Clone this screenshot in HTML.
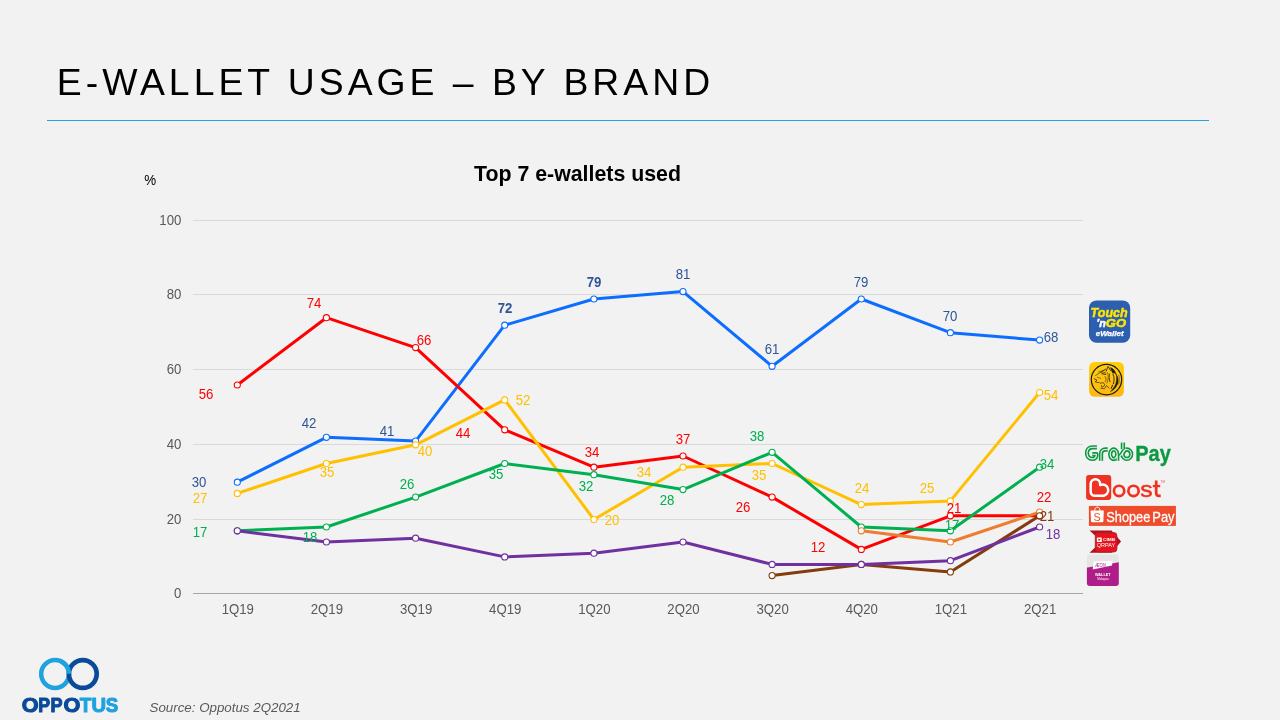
<!DOCTYPE html>
<html><head><meta charset="utf-8"><title>E-Wallet Usage</title>
<style>
html,body{margin:0;padding:0;}
body{width:1280px;height:720px;background:#F2F2F2;overflow:hidden;position:relative;font-family:"Liberation Sans",sans-serif;}
#title{position:absolute;left:57px;top:59px;font-size:40px;letter-spacing:3.6px;color:#0D0D0D;white-space:nowrap;line-height:46px;}
#rule{position:absolute;left:47px;top:120px;width:1162px;height:1px;background:#22A5DF;}
#ctitle{position:absolute;left:377px;width:400px;top:162px;text-align:center;font-size:20px;font-weight:bold;color:#000;line-height:24px;}
#pct{position:absolute;left:144px;top:173px;font-size:12px;color:#000;line-height:14px;}
#src{position:absolute;left:150px;top:699px;font-size:14px;font-style:italic;color:#595959;line-height:16px;}
svg{position:absolute;left:0;top:0;will-change:transform;}
svg text{font-family:"Liberation Sans",sans-serif;}
.ax{font-size:14.2px;fill:#595959;}
.dl{font-size:14.2px;}
</style></head><body>
<div id="rule"></div>
<svg width="1280" height="720" viewBox="0 0 1280 720">
<rect x="193" y="220" width="890" height="1" fill="#D9D9D9"/>
<rect x="193" y="294" width="890" height="1" fill="#D9D9D9"/>
<rect x="193" y="369" width="890" height="1" fill="#D9D9D9"/>
<rect x="193" y="444" width="890" height="1" fill="#D9D9D9"/>
<rect x="193" y="519" width="890" height="1" fill="#D9D9D9"/>
<rect x="193" y="593" width="890" height="1" fill="#A6A6A6"/>
<polyline points="237.3,482.2 326.4,437.3 415.6,441.1 504.7,325.2 593.9,299.0 683.0,291.6 772.1,366.3 861.3,299.0 950.4,332.7 1039.6,340.1" fill="none" stroke="#0D6EFD" stroke-width="3" stroke-linejoin="round" stroke-linecap="round"/>
<circle cx="237.3" cy="482.2" r="3.05" fill="#fff" stroke="#0D6EFD" stroke-width="1.1"/>
<circle cx="326.4" cy="437.3" r="3.05" fill="#fff" stroke="#0D6EFD" stroke-width="1.1"/>
<circle cx="415.6" cy="441.1" r="3.05" fill="#fff" stroke="#0D6EFD" stroke-width="1.1"/>
<circle cx="504.7" cy="325.2" r="3.05" fill="#fff" stroke="#0D6EFD" stroke-width="1.1"/>
<circle cx="593.9" cy="299.0" r="3.05" fill="#fff" stroke="#0D6EFD" stroke-width="1.1"/>
<circle cx="683.0" cy="291.6" r="3.05" fill="#fff" stroke="#0D6EFD" stroke-width="1.1"/>
<circle cx="772.1" cy="366.3" r="3.05" fill="#fff" stroke="#0D6EFD" stroke-width="1.1"/>
<circle cx="861.3" cy="299.0" r="3.05" fill="#fff" stroke="#0D6EFD" stroke-width="1.1"/>
<circle cx="950.4" cy="332.7" r="3.05" fill="#fff" stroke="#0D6EFD" stroke-width="1.1"/>
<circle cx="1039.6" cy="340.1" r="3.05" fill="#fff" stroke="#0D6EFD" stroke-width="1.1"/>
<polyline points="237.3,385.0 326.4,317.7 415.6,347.6 504.7,429.8 593.9,467.2 683.0,456.0 772.1,497.1 861.3,549.4 950.4,515.8 1039.6,515.8" fill="none" stroke="#FF0000" stroke-width="3" stroke-linejoin="round" stroke-linecap="round"/>
<circle cx="237.3" cy="385.0" r="3.05" fill="#fff" stroke="#FF0000" stroke-width="1.1"/>
<circle cx="326.4" cy="317.7" r="3.05" fill="#fff" stroke="#FF0000" stroke-width="1.1"/>
<circle cx="415.6" cy="347.6" r="3.05" fill="#fff" stroke="#FF0000" stroke-width="1.1"/>
<circle cx="504.7" cy="429.8" r="3.05" fill="#fff" stroke="#FF0000" stroke-width="1.1"/>
<circle cx="593.9" cy="467.2" r="3.05" fill="#fff" stroke="#FF0000" stroke-width="1.1"/>
<circle cx="683.0" cy="456.0" r="3.05" fill="#fff" stroke="#FF0000" stroke-width="1.1"/>
<circle cx="772.1" cy="497.1" r="3.05" fill="#fff" stroke="#FF0000" stroke-width="1.1"/>
<circle cx="861.3" cy="549.4" r="3.05" fill="#fff" stroke="#FF0000" stroke-width="1.1"/>
<circle cx="950.4" cy="515.8" r="3.05" fill="#fff" stroke="#FF0000" stroke-width="1.1"/>
<circle cx="1039.6" cy="515.8" r="3.05" fill="#fff" stroke="#FF0000" stroke-width="1.1"/>
<polyline points="237.3,493.4 326.4,463.5 415.6,444.8 504.7,399.9 593.9,519.5 683.0,467.2 772.1,463.5 861.3,504.6 950.4,500.9 1039.6,392.5" fill="none" stroke="#FFC000" stroke-width="3" stroke-linejoin="round" stroke-linecap="round"/>
<circle cx="237.3" cy="493.4" r="3.05" fill="#fff" stroke="#FFC000" stroke-width="1.1"/>
<circle cx="326.4" cy="463.5" r="3.05" fill="#fff" stroke="#FFC000" stroke-width="1.1"/>
<circle cx="415.6" cy="444.8" r="3.05" fill="#fff" stroke="#FFC000" stroke-width="1.1"/>
<circle cx="504.7" cy="399.9" r="3.05" fill="#fff" stroke="#FFC000" stroke-width="1.1"/>
<circle cx="593.9" cy="519.5" r="3.05" fill="#fff" stroke="#FFC000" stroke-width="1.1"/>
<circle cx="683.0" cy="467.2" r="3.05" fill="#fff" stroke="#FFC000" stroke-width="1.1"/>
<circle cx="772.1" cy="463.5" r="3.05" fill="#fff" stroke="#FFC000" stroke-width="1.1"/>
<circle cx="861.3" cy="504.6" r="3.05" fill="#fff" stroke="#FFC000" stroke-width="1.1"/>
<circle cx="950.4" cy="500.9" r="3.05" fill="#fff" stroke="#FFC000" stroke-width="1.1"/>
<circle cx="1039.6" cy="392.5" r="3.05" fill="#fff" stroke="#FFC000" stroke-width="1.1"/>
<polyline points="237.3,530.8 326.4,527.0 415.6,497.1 504.7,463.5 593.9,474.7 683.0,489.6 772.1,452.3 861.3,527.0 950.4,530.8 1039.6,467.2" fill="none" stroke="#00B050" stroke-width="3" stroke-linejoin="round" stroke-linecap="round"/>
<circle cx="237.3" cy="530.8" r="3.05" fill="#fff" stroke="#00B050" stroke-width="1.1"/>
<circle cx="326.4" cy="527.0" r="3.05" fill="#fff" stroke="#00B050" stroke-width="1.1"/>
<circle cx="415.6" cy="497.1" r="3.05" fill="#fff" stroke="#00B050" stroke-width="1.1"/>
<circle cx="504.7" cy="463.5" r="3.05" fill="#fff" stroke="#00B050" stroke-width="1.1"/>
<circle cx="593.9" cy="474.7" r="3.05" fill="#fff" stroke="#00B050" stroke-width="1.1"/>
<circle cx="683.0" cy="489.6" r="3.05" fill="#fff" stroke="#00B050" stroke-width="1.1"/>
<circle cx="772.1" cy="452.3" r="3.05" fill="#fff" stroke="#00B050" stroke-width="1.1"/>
<circle cx="861.3" cy="527.0" r="3.05" fill="#fff" stroke="#00B050" stroke-width="1.1"/>
<circle cx="950.4" cy="530.8" r="3.05" fill="#fff" stroke="#00B050" stroke-width="1.1"/>
<circle cx="1039.6" cy="467.2" r="3.05" fill="#fff" stroke="#00B050" stroke-width="1.1"/>
<polyline points="861.3,530.8 950.4,542.0 1039.6,512.1" fill="none" stroke="#ED7D31" stroke-width="3" stroke-linejoin="round" stroke-linecap="round"/>
<circle cx="861.3" cy="530.8" r="3.05" fill="#fff" stroke="#ED7D31" stroke-width="1.1"/>
<circle cx="950.4" cy="542.0" r="3.05" fill="#fff" stroke="#ED7D31" stroke-width="1.1"/>
<circle cx="1039.6" cy="512.1" r="3.05" fill="#fff" stroke="#ED7D31" stroke-width="1.1"/>
<polyline points="772.1,575.6 861.3,564.4 950.4,571.9 1039.6,515.8" fill="none" stroke="#843C0C" stroke-width="3" stroke-linejoin="round" stroke-linecap="round"/>
<circle cx="772.1" cy="575.6" r="3.05" fill="#fff" stroke="#843C0C" stroke-width="1.1"/>
<circle cx="861.3" cy="564.4" r="3.05" fill="#fff" stroke="#843C0C" stroke-width="1.1"/>
<circle cx="950.4" cy="571.9" r="3.05" fill="#fff" stroke="#843C0C" stroke-width="1.1"/>
<circle cx="1039.6" cy="515.8" r="3.05" fill="#fff" stroke="#843C0C" stroke-width="1.1"/>
<polyline points="237.3,530.8 326.4,542.0 415.6,538.2 504.7,556.9 593.9,553.2 683.0,542.0 772.1,564.4 861.3,564.4 950.4,560.7 1039.6,527.0" fill="none" stroke="#7030A0" stroke-width="3" stroke-linejoin="round" stroke-linecap="round"/>
<circle cx="237.3" cy="530.8" r="3.05" fill="#fff" stroke="#7030A0" stroke-width="1.1"/>
<circle cx="326.4" cy="542.0" r="3.05" fill="#fff" stroke="#7030A0" stroke-width="1.1"/>
<circle cx="415.6" cy="538.2" r="3.05" fill="#fff" stroke="#7030A0" stroke-width="1.1"/>
<circle cx="504.7" cy="556.9" r="3.05" fill="#fff" stroke="#7030A0" stroke-width="1.1"/>
<circle cx="593.9" cy="553.2" r="3.05" fill="#fff" stroke="#7030A0" stroke-width="1.1"/>
<circle cx="683.0" cy="542.0" r="3.05" fill="#fff" stroke="#7030A0" stroke-width="1.1"/>
<circle cx="772.1" cy="564.4" r="3.05" fill="#fff" stroke="#7030A0" stroke-width="1.1"/>
<circle cx="861.3" cy="564.4" r="3.05" fill="#fff" stroke="#7030A0" stroke-width="1.1"/>
<circle cx="950.4" cy="560.7" r="3.05" fill="#fff" stroke="#7030A0" stroke-width="1.1"/>
<circle cx="1039.6" cy="527.0" r="3.05" fill="#fff" stroke="#7030A0" stroke-width="1.1"/>
<text transform="translate(181.4,224.6) scale(0.93,1)" text-anchor="end" class="ax">100</text>
<text transform="translate(181.4,298.6) scale(0.93,1)" text-anchor="end" class="ax">80</text>
<text transform="translate(181.4,373.6) scale(0.93,1)" text-anchor="end" class="ax">60</text>
<text transform="translate(181.4,448.6) scale(0.93,1)" text-anchor="end" class="ax">40</text>
<text transform="translate(181.4,523.6) scale(0.93,1)" text-anchor="end" class="ax">20</text>
<text transform="translate(181.4,597.6) scale(0.93,1)" text-anchor="end" class="ax">0</text>
<text transform="translate(237.8,614) scale(0.93,1)" text-anchor="middle" class="ax">1Q19</text>
<text transform="translate(326.9,614) scale(0.93,1)" text-anchor="middle" class="ax">2Q19</text>
<text transform="translate(416.1,614) scale(0.93,1)" text-anchor="middle" class="ax">3Q19</text>
<text transform="translate(505.2,614) scale(0.93,1)" text-anchor="middle" class="ax">4Q19</text>
<text transform="translate(594.4,614) scale(0.93,1)" text-anchor="middle" class="ax">1Q20</text>
<text transform="translate(683.5,614) scale(0.93,1)" text-anchor="middle" class="ax">2Q20</text>
<text transform="translate(772.6,614) scale(0.93,1)" text-anchor="middle" class="ax">3Q20</text>
<text transform="translate(861.8,614) scale(0.93,1)" text-anchor="middle" class="ax">4Q20</text>
<text transform="translate(950.9,614) scale(0.93,1)" text-anchor="middle" class="ax">1Q21</text>
<text transform="translate(1040.1,614) scale(0.93,1)" text-anchor="middle" class="ax">2Q21</text>
<text transform="translate(199,487) scale(0.93,1)" text-anchor="middle" class="dl" fill="#2F5597">30</text>
<text transform="translate(309,428) scale(0.93,1)" text-anchor="middle" class="dl" fill="#2F5597">42</text>
<text transform="translate(387,436) scale(0.93,1)" text-anchor="middle" class="dl" fill="#2F5597">41</text>
<text transform="translate(505,313) scale(0.93,1)" text-anchor="middle" class="dl" fill="#2F5597" font-weight="bold">72</text>
<text transform="translate(594,287) scale(0.93,1)" text-anchor="middle" class="dl" fill="#2F5597" font-weight="bold">79</text>
<text transform="translate(683,279) scale(0.93,1)" text-anchor="middle" class="dl" fill="#2F5597">81</text>
<text transform="translate(772,354) scale(0.93,1)" text-anchor="middle" class="dl" fill="#2F5597">61</text>
<text transform="translate(861,287) scale(0.93,1)" text-anchor="middle" class="dl" fill="#2F5597">79</text>
<text transform="translate(950,321) scale(0.93,1)" text-anchor="middle" class="dl" fill="#2F5597">70</text>
<text transform="translate(1051,342) scale(0.93,1)" text-anchor="middle" class="dl" fill="#2F5597">68</text>
<text transform="translate(206,399) scale(0.93,1)" text-anchor="middle" class="dl" fill="#FF0000">56</text>
<text transform="translate(314,308) scale(0.93,1)" text-anchor="middle" class="dl" fill="#FF0000">74</text>
<text transform="translate(424,345) scale(0.93,1)" text-anchor="middle" class="dl" fill="#FF0000">66</text>
<text transform="translate(463,438) scale(0.93,1)" text-anchor="middle" class="dl" fill="#FF0000">44</text>
<text transform="translate(592,457) scale(0.93,1)" text-anchor="middle" class="dl" fill="#FF0000">34</text>
<text transform="translate(683,444) scale(0.93,1)" text-anchor="middle" class="dl" fill="#FF0000">37</text>
<text transform="translate(743,512) scale(0.93,1)" text-anchor="middle" class="dl" fill="#FF0000">26</text>
<text transform="translate(818,552) scale(0.93,1)" text-anchor="middle" class="dl" fill="#FF0000">12</text>
<text transform="translate(954,513) scale(0.93,1)" text-anchor="middle" class="dl" fill="#FF0000">21</text>
<text transform="translate(1044,502) scale(0.93,1)" text-anchor="middle" class="dl" fill="#FF0000">22</text>
<text transform="translate(200,503) scale(0.93,1)" text-anchor="middle" class="dl" fill="#FFC000">27</text>
<text transform="translate(327,477) scale(0.93,1)" text-anchor="middle" class="dl" fill="#FFC000">35</text>
<text transform="translate(425,456) scale(0.93,1)" text-anchor="middle" class="dl" fill="#FFC000">40</text>
<text transform="translate(523,405) scale(0.93,1)" text-anchor="middle" class="dl" fill="#FFC000">52</text>
<text transform="translate(612,525) scale(0.93,1)" text-anchor="middle" class="dl" fill="#FFC000">20</text>
<text transform="translate(644,477) scale(0.93,1)" text-anchor="middle" class="dl" fill="#FFC000">34</text>
<text transform="translate(759,480) scale(0.93,1)" text-anchor="middle" class="dl" fill="#FFC000">35</text>
<text transform="translate(862,493) scale(0.93,1)" text-anchor="middle" class="dl" fill="#FFC000">24</text>
<text transform="translate(927,493) scale(0.93,1)" text-anchor="middle" class="dl" fill="#FFC000">25</text>
<text transform="translate(1051,400) scale(0.93,1)" text-anchor="middle" class="dl" fill="#FFC000">54</text>
<text transform="translate(200,537) scale(0.93,1)" text-anchor="middle" class="dl" fill="#00B050">17</text>
<text transform="translate(310,542) scale(0.93,1)" text-anchor="middle" class="dl" fill="#00B050">18</text>
<text transform="translate(407,489) scale(0.93,1)" text-anchor="middle" class="dl" fill="#00B050">26</text>
<text transform="translate(496,479) scale(0.93,1)" text-anchor="middle" class="dl" fill="#00B050">35</text>
<text transform="translate(586,491) scale(0.93,1)" text-anchor="middle" class="dl" fill="#00B050">32</text>
<text transform="translate(667,505) scale(0.93,1)" text-anchor="middle" class="dl" fill="#00B050">28</text>
<text transform="translate(757,441) scale(0.93,1)" text-anchor="middle" class="dl" fill="#00B050">38</text>
<text transform="translate(952,530) scale(0.93,1)" text-anchor="middle" class="dl" fill="#00B050">17</text>
<text transform="translate(1047,469) scale(0.93,1)" text-anchor="middle" class="dl" fill="#00B050">34</text>
<text transform="translate(1047,521) scale(0.93,1)" text-anchor="middle" class="dl" fill="#843C0C">21</text>
<text transform="translate(1053,539) scale(0.93,1)" text-anchor="middle" class="dl" fill="#7030A0">18</text>
<text x="56.8" y="95.3" font-size="37.33" letter-spacing="4" fill="#000">E-WALLET USAGE – BY BRAND</text>
<text x="577.5" y="180.8" font-size="21.33" font-weight="bold" text-anchor="middle" fill="#000">Top 7 e-wallets used</text>
<text transform="translate(144.2,185.2) scale(0.93,1)" font-size="14.4" fill="#000">%</text>
<text x="149.5" y="712" font-size="13.33" font-style="italic" fill="#595959">Source: Oppotus 2Q2021</text>
<!-- Touch n Go -->
<g id="tng">
<rect x="1089" y="300.4" width="41.2" height="42.3" rx="7.5" fill="#2D5FB0"/>
<text x="1090.6" y="316.9" font-size="13.4" font-weight="bold" font-style="italic" fill="#FFE500" stroke="#FFE500" stroke-width="0.55" textLength="37" lengthAdjust="spacingAndGlyphs">Touch</text>
<text x="1096.6" y="326.6" font-size="10.5" font-weight="bold" font-style="italic" fill="#fff" stroke="#fff" stroke-width="0.45" textLength="9.2" lengthAdjust="spacingAndGlyphs">'n</text>
<text x="1105.8" y="326.7" font-size="11.8" font-weight="bold" font-style="italic" fill="#FFE500" stroke="#FFE500" stroke-width="0.55" textLength="20.2" lengthAdjust="spacingAndGlyphs">GO</text>
<text x="1095.7" y="336.4" font-size="7.4" font-weight="bold" font-style="italic" fill="#fff" stroke="#fff" stroke-width="0.25" textLength="28" lengthAdjust="spacingAndGlyphs">eWallet</text>
</g>
<!-- Maybank -->
<g id="mbb">
<defs><linearGradient id="mbg" x1="0" y1="0" x2="0" y2="1"><stop offset="0" stop-color="#FFCE0A"/><stop offset="1" stop-color="#FDB714"/></linearGradient></defs>
<rect x="1089.1" y="362" width="34.8" height="34.8" rx="5.5" fill="url(#mbg)"/>
<circle cx="1106.5" cy="379.6" r="15.2" fill="none" stroke="#1c1a17" stroke-width="1.2"/>
<g transform="translate(1084,358) scale(0.0639)" fill="none" stroke="#1c1a17" stroke-linecap="round" stroke-linejoin="round">
<path d="M348,205 L376,132 L420,200" stroke-width="13"/>
<path d="M415,150 C450,160 492,200 502,258 L472,232 L452,242 L432,200 Z" fill="#1c1a17" stroke-width="6"/>
<path d="M502,250 C572,340 532,470 412,528 C442,492 476,455 490,420 C514,370 514,300 502,250 Z" fill="#1c1a17" stroke-width="5"/>
<path d="M545,270 C560,320 555,370 540,410" stroke-width="7"/>
<path d="M455,258 C476,300 476,350 460,402" stroke-width="14"/>
<path d="M446,425 L428,475" stroke-width="15"/>
<path d="M400,250 C390,290 394,330 405,372" stroke-width="12"/>
<path d="M180,275 L340,172" stroke-width="9"/>
<path d="M232,218 L332,186" stroke-width="9"/>
<path d="M282,246 L336,256" stroke-width="15"/>
<path d="M270,226 C300,214 330,224 346,242" stroke-width="9"/>
<path d="M160,325 L202,345 L176,375 L238,386" stroke-width="11"/>
<path d="M255,396 C290,374 332,394 320,430 C300,466 264,456 270,430" stroke-width="11"/>
<path d="M264,472 L320,482 L350,432 L392,470" stroke-width="10"/>
<path d="M210,300 L262,320" stroke-width="8"/>
<path d="M330,290 C352,320 352,350 330,372" stroke-width="9"/>
<path d="M370,230 C386,280 380,340 360,392" stroke-width="8"/>
</g>
</g>
<!-- GrabPay -->
<g id="grab">
<g fill="none" stroke="#0B9A40" stroke-width="4.3" stroke-linecap="butt" stroke-linejoin="round">
<path id="gG" d="M1096.9,447.3 H1092.6 C1089,447.3 1087,449.8 1087,453.1 C1087,456.5 1089,458.9 1092.4,458.9 C1095.4,458.9 1096.4,457.3 1096.4,454.2 H1092.3"/>
<path id="gr" d="M1101,460.7 V453.8 C1101,451 1103,449.5 1105.5,449.5 H1107.7"/>
<path id="ga" d="M1117.2,460.7 V454.2 A3.5,4.7 0 1 0 1117.2,454.3"/>
<path id="gb1" d="M1122.9,442.6 V449.2"/>
<path id="gb2" d="M1126,448.7 L1120.2,456.2"/>
<ellipse id="gb3" cx="1126.9" cy="454.2" rx="4.3" ry="4.7"/>
</g>
<g fill="none" stroke="#F2F2F2" stroke-width="1.1" stroke-linecap="butt" stroke-linejoin="round">
<use href="#gG"/><use href="#gr"/><use href="#ga"/><use href="#gb1"/><use href="#gb2"/><use href="#gb3"/>
</g>
<text x="1135.2" y="460.8" font-size="22.6" font-weight="bold" fill="#0B9A40" stroke="#0B9A40" stroke-width="0.35" textLength="35.6" lengthAdjust="spacingAndGlyphs">Pay</text>
</g>
<!-- Boost -->
<g id="boost">
<rect x="1086.1" y="474.9" width="25.1" height="25" rx="2.8" fill="#ED3324"/>
<path d="M1090.65,491.5 V484.1 A4.75,4.75 0 0 1 1100.15,484.1 V485 A5.7,5.7 0 1 1 1101.7,495.8 H1094.9 A4.25,4.25 0 0 1 1090.65,491.5 Z" fill="none" stroke="#fff" stroke-width="2.5" stroke-linejoin="round"/>
<g fill="none" stroke="#F2301F">
<circle cx="1119.1" cy="490.9" r="5.15" stroke-width="2.7"/>
<circle cx="1133.5" cy="490.9" r="5.15" stroke-width="2.7"/>
<path d="M1156.2,480.5 V493 Q1156.2,495.9 1159,495.9 H1160.7" stroke-width="2.7"/>
<path d="M1152.8,486.1 H1160.2" stroke-width="2.3"/>
</g>
<text x="1140.3" y="497.2" font-size="22.8" fill="#F2301F" stroke="#F2301F" stroke-width="0.5" textLength="12.4" lengthAdjust="spacingAndGlyphs">s</text>
<text x="1160.6" y="483.2" font-size="3" fill="#F2301F" opacity="0.85">TM</text>
</g>
<!-- ShopeePay -->
<g id="shopee">
<rect x="1088.9" y="505.9" width="87" height="20" fill="#EE4D2D"/>
<path d="M1094.6,511 C1094.6,505.8 1100,505.8 1100,511" fill="none" stroke="#fff" stroke-width="1"/>
<path d="M1090.6,510.6 H1103.8 L1103.4,521.2 Q1103.3,522.3 1102.2,522.3 H1092.2 Q1091.1,522.3 1091,521.2 Z" fill="#fff"/>
<text x="1097.2" y="520.5" font-size="10.8" text-anchor="middle" fill="#EE4D2D">S</text>
<text x="1106.3" y="522" font-size="15" fill="#fff" stroke="#fff" stroke-width="0.3" textLength="44" lengthAdjust="spacingAndGlyphs">Shopee</text>
<text x="1152.3" y="522" font-size="15" fill="#fff" stroke="#fff" stroke-width="0.3" textLength="22.3" lengthAdjust="spacingAndGlyphs">Pay</text>
</g>
<!-- CIMB -->
<g id="cimb">
<path d="M1089.5,530.4 H1111.5 L1121.1,541.6 L1111.5,552.8 H1089.5 L1101.5,541.6 Z" fill="#B80F1C"/>
<rect x="1095.3" y="532.6" width="21.6" height="19.4" rx="3.2" fill="#E8131D" stroke="#9E262C" stroke-width="0.9"/>
<rect x="1096.9" y="537.6" width="4.9" height="4.4" rx="0.6" fill="#fff"/>
<path d="M1098.4,538.5 L1100.9,539.8 L1098.4,541.1 Z" fill="#E8131D"/>
<text x="1103" y="541.3" font-size="4.4" font-weight="bold" fill="#fff" textLength="12.2" lengthAdjust="spacingAndGlyphs">CIMB</text>
<text x="1096.8" y="546.8" font-size="5.2" fill="#fff" textLength="18.4" lengthAdjust="spacingAndGlyphs">QRPAY</text>
</g>
<!-- AEON -->
<g id="aeon">
<clipPath id="aeclip"><rect x="1086.9" y="554.4" width="31.9" height="31.6" rx="3"/></clipPath>
<g clip-path="url(#aeclip)">
<rect x="1086" y="554" width="34" height="33" fill="#E5E5E5"/>
<path d="M1086,567.8 L1120,562 V587 H1086 Z" fill="#AF1D88"/>
</g>
<path d="M1093.6,561.5 L1112.6,560.8 L1112,565.6 L1092.7,569.6 Z" fill="#fff"/>
<text x="1095" y="566.9" font-size="5" font-style="italic" fill="#AF1D88" textLength="11" lengthAdjust="spacingAndGlyphs">ÆON</text>
<text x="1095" y="576.2" font-size="3.6" font-weight="bold" fill="#fff" textLength="15.6" lengthAdjust="spacingAndGlyphs">WALLET</text>
<text x="1097.3" y="579.9" font-size="2.6" fill="#fff" textLength="11.4" lengthAdjust="spacingAndGlyphs">Malaysia</text>
</g>
<!-- Oppotus -->
<g id="oppotus">
<circle cx="55.1" cy="674" r="13.9" fill="none" stroke="#1FA2DE" stroke-width="4.5"/>
<circle cx="82.8" cy="674" r="13.9" fill="none" stroke="#0A4A9A" stroke-width="4.7"/>
<clipPath id="opclip"><rect x="60" y="655" width="15" height="18.8"/></clipPath>
<circle cx="55.1" cy="674" r="13.9" fill="none" stroke="#1FA2DE" stroke-width="4.5" clip-path="url(#opclip)"/>
<text transform="translate(21.81,712.3) scale(1.049,1)" font-size="20.6" font-weight="bold" fill="#0A4A9A" stroke="#0A4A9A" stroke-width="1.1" stroke-linejoin="round">O</text>
<text transform="translate(38.21,712.3) scale(0.859,1)" font-size="20.6" font-weight="bold" fill="#0A4A9A" stroke="#0A4A9A" stroke-width="1.1" stroke-linejoin="round">P</text>
<text transform="translate(50.59,712.3) scale(0.876,1)" font-size="20.6" font-weight="bold" fill="#0A4A9A" stroke="#0A4A9A" stroke-width="1.1" stroke-linejoin="round">P</text>
<text transform="translate(63.41,712.3) scale(1.049,1)" font-size="20.6" font-weight="bold" fill="#0A4A9A" stroke="#0A4A9A" stroke-width="1.1" stroke-linejoin="round">O</text>
<text transform="translate(79.78,712.3) scale(0.924,1)" font-size="20.6" font-weight="bold" fill="#1FA2DE" stroke="#1FA2DE" stroke-width="1.1" stroke-linejoin="round">T</text>
<text transform="translate(91.48,712.3) scale(0.978,1)" font-size="20.6" font-weight="bold" fill="#1FA2DE" stroke="#1FA2DE" stroke-width="1.1" stroke-linejoin="round">U</text>
<text transform="translate(105.76,712.3) scale(0.908,1)" font-size="20.6" font-weight="bold" fill="#1FA2DE" stroke="#1FA2DE" stroke-width="1.1" stroke-linejoin="round">S</text>
</g>

</svg>
</body></html>
